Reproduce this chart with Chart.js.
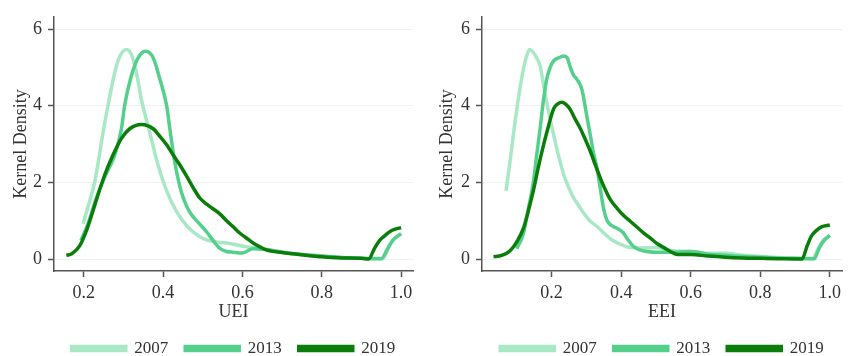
<!DOCTYPE html>
<html>
<head>
<meta charset="utf-8">
<script src="https://cdn.jsdelivr.net/npm/chart.js@4"></script>
<style>
  html, body { margin: 0; padding: 0; background: #fff; overflow: hidden; }
  .panel { position: absolute; top: 0; height: 367px; }
  #p1 { left: 0; width: 426px; }
  #p2 { left: 426px; width: 427px; }
</style>
</head>
<body>
<div class="panel" id="p1"><canvas id="c1"></canvas></div>
<div class="panel" id="p2"><canvas id="c2"></canvas></div>
<script>
'use strict'

const YEARS = ['2007', '2013', '2019']
const COLORS = ['#a8e8c4', '#55cf8c', '#0a7d0a']
const X_TICKS = [0.2, 0.4, 0.6, 0.8, 1.0]
const Y_TICKS = [0, 2, 4, 6]

// UEI panel
const uei2007X = [0.198, 0.213, 0.228, 0.249, 0.261, 0.278, 0.291, 0.308, 0.32, 0.333, 0.345, 0.366, 0.387, 0.409, 0.434, 0.463, 0.49, 0.509, 0.535, 0.56, 0.61, 0.66, 0.70, 0.75, 0.80, 0.85, 0.90, 0.95, 0.96, 0.97, 0.98, 0.99, 1.0]
const uei2007Y = [0.92, 1.45, 2.03, 3.32, 4.0, 4.86, 5.29, 5.47, 5.34, 4.86, 4.18, 3.32, 2.46, 1.78, 1.24, 0.83, 0.6, 0.5, 0.45, 0.42, 0.32, 0.25, 0.18, 0.12, 0.08, 0.04, 0.02, 0.01, 0.1, 0.35, 0.5, 0.6, 0.68]
const uei2013X = [0.193, 0.21, 0.232, 0.253, 0.274, 0.285, 0.295, 0.303, 0.32, 0.337, 0.356, 0.375, 0.392, 0.409, 0.417, 0.43, 0.446, 0.463, 0.476, 0.492, 0.509, 0.525, 0.543, 0.56, 0.576, 0.60, 0.626, 0.66, 0.70, 0.75, 0.80, 0.85, 0.90, 0.95, 0.965, 0.98, 1.0]
const uei2013Y = [0.49, 0.9, 1.6, 2.15, 2.6, 2.95, 3.4, 4.0, 4.78, 5.25, 5.42, 5.25, 4.69, 4.0, 3.4, 2.5, 1.75, 1.3, 1.1, 0.92, 0.72, 0.5, 0.28, 0.2, 0.18, 0.16, 0.27, 0.25, 0.18, 0.12, 0.08, 0.04, 0.02, 0.01, 0.25, 0.5, 0.66]
const uei2019X = [0.156, 0.17, 0.19, 0.207, 0.22, 0.232, 0.253, 0.274, 0.295, 0.316, 0.345, 0.375, 0.392, 0.409, 0.425, 0.442, 0.46, 0.476, 0.492, 0.509, 0.525, 0.543, 0.56, 0.576, 0.593, 0.61, 0.627, 0.644, 0.66, 0.70, 0.76, 0.80, 0.85, 0.90, 0.918, 0.933, 0.946, 0.96, 0.972, 0.985, 1.0]
const uei2019Y = [0.1, 0.14, 0.35, 0.75, 1.15, 1.55, 2.2, 2.72, 3.15, 3.4, 3.51, 3.4, 3.2, 2.98, 2.72, 2.46, 2.15, 1.86, 1.6, 1.44, 1.32, 1.18, 1.0, 0.85, 0.68, 0.55, 0.42, 0.32, 0.24, 0.17, 0.1, 0.06, 0.03, 0.02, 0.0, 0.28, 0.49, 0.62, 0.72, 0.78, 0.82]

// EEI panel
const eei2007X = [0.069, 0.08, 0.09, 0.10, 0.11, 0.12, 0.13, 0.137, 0.145, 0.157, 0.167, 0.176, 0.186, 0.196, 0.206, 0.22, 0.235, 0.25, 0.263, 0.278, 0.292, 0.31, 0.331, 0.35, 0.374, 0.40, 0.422, 0.45, 0.50, 0.55, 0.60, 0.65, 0.70, 0.75, 0.80, 0.85, 0.90, 0.95, 0.965, 0.98, 1.0]
const eei2007Y = [1.78, 2.5, 3.24, 3.9, 4.5, 5.0, 5.35, 5.47, 5.42, 5.25, 5.04, 4.6, 4.09, 3.65, 3.24, 2.7, 2.2, 1.85, 1.6, 1.4, 1.2, 1.0, 0.85, 0.68, 0.5, 0.38, 0.31, 0.29, 0.3, 0.22, 0.2, 0.15, 0.15, 0.1, 0.07, 0.04, 0.02, 0.01, 0.25, 0.48, 0.62]
const eei2013X = [0.10, 0.119, 0.133, 0.148, 0.157, 0.167, 0.176, 0.186, 0.196, 0.206, 0.22, 0.235, 0.245, 0.254, 0.263, 0.273, 0.287, 0.302, 0.312, 0.321, 0.331, 0.34, 0.35, 0.36, 0.372, 0.389, 0.405, 0.42, 0.437, 0.466, 0.504, 0.562, 0.60, 0.65, 0.70, 0.75, 0.80, 0.85, 0.90, 0.955, 0.97, 0.985, 1.0]
const eei2013Y = [0.27, 0.67, 1.3, 2.03, 2.7, 3.4, 4.1, 4.69, 5.0, 5.17, 5.25, 5.3, 5.25, 5.0, 4.8, 4.69, 4.43, 3.7, 3.2, 2.75, 2.35, 1.85, 1.3, 1.0, 0.88, 0.8, 0.7, 0.5, 0.32, 0.21, 0.18, 0.18, 0.2, 0.13, 0.1, 0.07, 0.05, 0.03, 0.02, 0.01, 0.3, 0.5, 0.62]
const eei2019X = [0.033, 0.05, 0.071, 0.085, 0.10, 0.119, 0.133, 0.148, 0.162, 0.177, 0.192, 0.206, 0.218, 0.23, 0.242, 0.254, 0.268, 0.283, 0.298, 0.312, 0.326, 0.34, 0.355, 0.369, 0.389, 0.408, 0.427, 0.446, 0.465, 0.485, 0.504, 0.523, 0.542, 0.562, 0.60, 0.65, 0.70, 0.75, 0.80, 0.85, 0.92, 0.935, 0.947, 0.962, 0.976, 1.0]
const eei2019Y = [0.06, 0.08, 0.15, 0.26, 0.45, 0.8, 1.25, 1.8, 2.4, 2.98, 3.5, 3.92, 4.05, 4.09, 4.03, 3.9, 3.65, 3.4, 3.1, 2.8, 2.45, 2.12, 1.8, 1.55, 1.32, 1.13, 0.98, 0.83, 0.68, 0.54, 0.4, 0.3, 0.2, 0.12, 0.12, 0.08, 0.05, 0.03, 0.02, 0.01, 0.0, 0.35, 0.6, 0.75, 0.84, 0.89]

const FONT = "'Liberation Serif', 'Times New Roman', serif"
const INK = '#333333'
const AXIS = '#555555'

const toPoints = (xs, ys) => xs.map((x, i) => ({x: x, y: ys[i]}))

const makeDataset = function(i, xs, ys) {
	return {
		label: YEARS[i],
		data: toPoints(xs, ys),
		borderColor: COLORS[i],
		backgroundColor: COLORS[i],
		borderWidth: 3.5,
		pointRadius: 0,
		showLine: true,
		cubicInterpolationMode: 'monotone',
		order: 3 - i
	}
}

const makeChart = function(id, series, xTitle, xMin, xMax, yAxisWidth, padRight) {
	const ctx = document.getElementById(id).getContext('2d')
	return new Chart(ctx, {
		type: 'scatter',
		data: {
			datasets: series.map((s, i) => makeDataset(i, s[0], s[1]))
		},
		options: {
			responsive: true,
			maintainAspectRatio: false,
			animation: false,
			layout: {
				padding: {top: 14, right: padRight, left: 0, bottom: 0}
			},
			scales: {
				x: {
					type: 'linear',
					min: xMin,
					max: xMax,
					afterBuildTicks: (scale) => { scale.ticks = X_TICKS.map(v => ({value: v})) },
					afterFit: (scale) => { scale.height = 52 },
					ticks: {
						padding: 5,
						color: INK,
						font: {family: FONT, size: 18},
						callback: (v) => Number(v).toFixed(1),
						maxRotation: 0
					},
					grid: {
						drawOnChartArea: false,
						tickLength: 6,
						tickColor: AXIS,
						tickWidth: 1.5
					},
					border: {color: AXIS, width: 1.5},
					title: {
						display: true,
						text: xTitle,
						color: INK,
						font: {family: FONT, size: 18},
						padding: {top: 0, bottom: 0}
					}
				},
				y: {
					min: -0.31,
					max: 6.32,
					afterBuildTicks: (scale) => { scale.ticks = Y_TICKS.map(v => ({value: v})) },
					afterFit: (scale) => { scale.width = yAxisWidth },
					ticks: {
						padding: 6,
						color: INK,
						font: {family: FONT, size: 18}
					},
					grid: {
						color: '#edf3f3',
						lineWidth: 1,
						tickLength: 6,
						tickColor: AXIS,
						tickWidth: 1.5
					},
					border: {color: AXIS, width: 1.5},
					title: {
						display: true,
						text: 'Kernel Density',
						color: INK,
						font: {family: FONT, size: 18},
						padding: {top: 10, bottom: 0}
					}
				}
			},
			plugins: {
				legend: {
					display: true,
					position: 'bottom',
					fullSize: false,
					labels: {
						boxWidth: 54,
						boxHeight: 4,
						padding: 17,
						color: INK,
						font: {family: FONT, size: 17},
						sort: (a, b) => a.datasetIndex - b.datasetIndex
					}
				},
				tooltip: {enabled: false}
			}
		}
	})
}

makeChart('c1', [[uei2007X, uei2007Y], [uei2013X, uei2013Y], [uei2019X, uei2019Y]], 'UEI', 0.125, 1.03, 54, 13)
makeChart('c2', [[eei2007X, eei2007Y], [eei2013X, eei2013Y], [eei2019X, eei2019Y]], 'EEI', 0.0, 1.035, 56, 11)
</script>
</body>
</html>
